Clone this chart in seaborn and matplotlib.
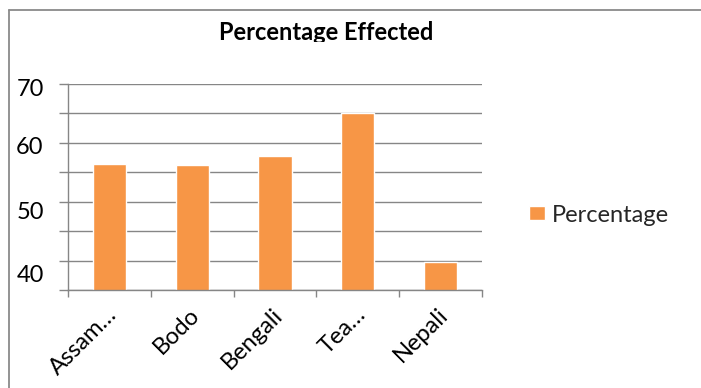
import matplotlib
matplotlib.use("Agg")
import matplotlib.pyplot as plt
import matplotlib.transforms as mtransforms
from matplotlib.lines import Line2D
import seaborn as sns

# Share of each community affected (%)
categories = ["Assam\u2026", "Bodo", "Bengali", "Tea\u2026", "Nepali"]
percentage = [56.4, 56.2, 57.8, 65.0, 39.8]
y_ticks = [35, 40, 45, 50, 55, 60, 65, 70]
y_tick_labels = ["", "40", "", "50", "", "60", "", "70"]
title = "Percentage Effected"
series_name = "Percentage"

sns.set_theme(style="white")
plt.rcParams["font.family"] = ["Lato", "DejaVu Sans"]

BAR = "#F79646"
GRID = "#868686"
FS = 17

W, H = 701, 388
fig = plt.figure(figsize=(W / 100, H / 100), dpi=100)
fig.patch.set_facecolor("white")

# plot area in pixel terms
left, right, top, bottom = 68, 482, 84, 290
ax = fig.add_axes([left / W, 1 - bottom / H, (right - left) / W, (bottom - top) / H])

sns.barplot(x=categories, y=percentage, color=BAR, saturation=1, width=0.4,
            label=series_name, ax=ax)

ax.set_xlim(-0.5, len(categories) - 0.5)
ax.set_ylim(35, 70)
ax.set_xlabel("")
ax.set_ylabel("")
ax.set_axisbelow(True)

# horizontal grid
ax.set_yticks(y_ticks)
ax.set_yticklabels(y_tick_labels)
ax.yaxis.grid(True, color=GRID, linewidth=1.0)
ax.xaxis.grid(False)
ax.tick_params(axis="y", length=6.5, width=1.0, color=GRID, direction="out",
               pad=11, labelsize=FS, labelcolor="black", left=True)

# category dividers as minor ticks, labels on the majors
ax.set_xticks([i - 0.5 for i in range(len(categories) + 1)], minor=True)
ax.set_xticks(range(len(categories)))
ax.set_xticklabels(categories, rotation=45, ha="right", va="top",
                   rotation_mode="anchor")
ax.tick_params(axis="x", which="major", length=0, pad=0, labelsize=FS,
               labelcolor="black", bottom=True)
ax.tick_params(axis="x", which="minor", length=5, width=1.0, color=GRID,
               direction="out", bottom=True)

for side in ["top", "right"]:
    ax.spines[side].set_visible(False)
for side in ["left", "bottom"]:
    ax.spines[side].set_color(GRID)
    ax.spines[side].set_linewidth(1.0)

# nudge category labels down under their bars
xoff = mtransforms.ScaledTranslation(-3 / 100, -14 / 100, fig.dpi_scale_trans)
for lab in ax.get_xticklabels():
    lab.set_transform(lab.get_transform() + xoff)

# value labels sit a little lower toward the bottom of the axis
nudges = {"70": 3, "60": 2.5, "50": 9, "40": 12.5}
for lab, txt in zip(ax.get_yticklabels(), y_tick_labels):
    if txt in nudges:
        off = mtransforms.ScaledTranslation(0, -nudges[txt] / 100, fig.dpi_scale_trans)
        lab.set_transform(lab.get_transform() + off)

# legend to the right of the plot
handles, labels = ax.get_legend_handles_labels()
if ax.get_legend() is not None:
    ax.get_legend().remove()
fig.legend(handles, labels, loc="center left",
           bbox_to_anchor=(529 / W, 1 - 215 / H), frameon=False,
           fontsize=FS, handlelength=0.68, handleheight=0.55,
           handletextpad=0.3, borderpad=0, borderaxespad=0)

# title, trimmed at its lower edge
t = fig.text(326 / W, 1 - 40 / H, title, ha="center", va="baseline",
             fontsize=FS, fontweight="bold", color="black")
clip = mtransforms.TransformedBbox(
    mtransforms.Bbox([[0, H - 42], [W, H]]), mtransforms.IdentityTransform())
t.set_clip_box(clip)
t.set_clip_on(True)

# chart frame (top and left edges)
frame = "#8a8a8a"
fig.add_artist(Line2D([9 / W, 1], [1 - 10 / H, 1 - 10 / H], color=frame,
                      linewidth=1.3, transform=fig.transFigure))
fig.add_artist(Line2D([9 / W, 9 / W], [1 - 10 / H, 0], color=frame,
                      linewidth=1.3, transform=fig.transFigure))

fig.savefig("out.png", dpi=100, facecolor="white")
